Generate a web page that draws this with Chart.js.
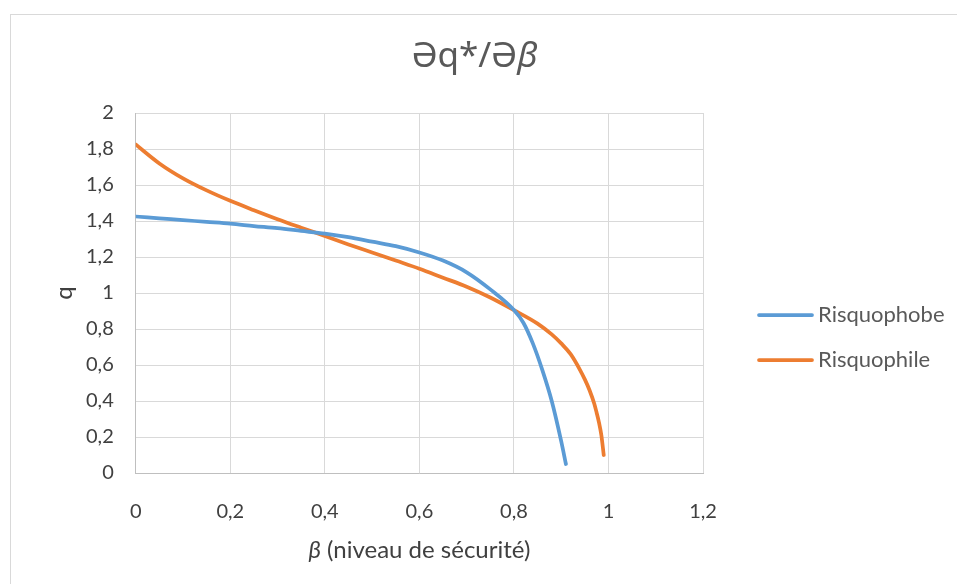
<!DOCTYPE html>
<html>
<head>
<meta charset="utf-8">
<script src="https://cdn.jsdelivr.net/npm/chart.js@4/dist/chart.umd.min.js"></script>
<style>
  body { margin: 0; background: #fff; }
  #wrap { position: relative; width: 957px; height: 584px; overflow: hidden; }
  #frame { position: absolute; left: 10px; top: 14px; width: 980px; height: 620px; border: 1px solid #d9d9d9; }
  canvas { position: absolute; left: 0; top: 0; }
</style>
</head>
<body>
<div id="wrap">
  <div id="frame"></div>
  <canvas id="chart" width="957" height="584"></canvas>
</div>
<script>
// q as a function of beta for each attitude toward risk
const betaPhobe = [0, 0.05, 0.1, 0.15, 0.2, 0.25, 0.3, 0.35, 0.4, 0.45, 0.5, 0.55, 0.6, 0.65, 0.7, 0.75, 0.8, 0.82, 0.84, 0.86, 0.88, 0.9, 0.91];
const qPhobe = [1.425, 1.415, 1.405, 1.395, 1.385, 1.372, 1.36, 1.345, 1.33, 1.31, 1.285, 1.26, 1.225, 1.18, 1.115, 1.02, 0.905, 0.835, 0.72, 0.573, 0.4, 0.177, 0.05];

const betaPhile = [0, 0.05, 0.1, 0.15, 0.2, 0.25, 0.3, 0.35, 0.4, 0.45, 0.5, 0.55, 0.6, 0.65, 0.7, 0.75, 0.8, 0.85, 0.88, 0.9, 0.92, 0.94, 0.95, 0.96, 0.97, 0.975, 0.98, 0.985, 0.99];
const qPhile = [1.825, 1.72, 1.637, 1.57, 1.512, 1.46, 1.41, 1.363, 1.317, 1.27, 1.225, 1.18, 1.135, 1.085, 1.035, 0.975, 0.905, 0.83, 0.77, 0.72, 0.66, 0.572, 0.52, 0.46, 0.385, 0.335, 0.28, 0.21, 0.1];

const seriesNames = ['Risquophobe', 'Risquophile'];
const seriesColors = ['#5B9BD5', '#ED7D31'];

const titleParts = [['Əq*/Ə', ''], ['β', 'italic ']];
const xTitleParts = [['β', 'italic '], [' (niveau de sécurité)', '']];
const yTitle = 'q';

const toPoints = (xs, ys) => xs.map((x, i) => ({ x: x, y: ys[i] }));
const fmt = v => Number(v.toFixed(1)).toLocaleString('fr-FR');

const fontFamily = 'Lato, "Noto Sans", sans-serif';
const textColor = '#595959';
const axisTextColor = '#404040';

// draws a line of text made of pieces with their own font style, centred on cx
function drawParts(ctx, parts, cx, cy, size, family, color) {
    let total = 0;
    parts.forEach(p => {
        ctx.font = p[1] + size + 'px ' + family;
        total += ctx.measureText(p[0]).width;
    });
    let x = cx - total / 2;
    ctx.fillStyle = color;
    ctx.textBaseline = 'middle';
    ctx.textAlign = 'left';
    parts.forEach(p => {
        ctx.font = p[1] + size + 'px ' + family;
        ctx.fillText(p[0], x, cy);
        x += ctx.measureText(p[0]).width;
    });
}

// chart title, axis titles and the legend on the right
const decorations = {
    id: 'decorations',
    afterDraw(chart) {
        const ctx = chart.ctx;
        const area = chart.chartArea;
        const midY = (area.top + area.bottom) / 2;
        ctx.save();
        drawParts(ctx, titleParts, chart.width / 2 - 4, 57, 35, '"Noto Sans"', textColor);
        drawParts(ctx, xTitleParts, (area.left + area.right) / 2, area.bottom + 77, 24, fontFamily, axisTextColor);

        ctx.save();
        ctx.translate(area.left - 71, midY);
        ctx.rotate(-Math.PI / 2);
        drawParts(ctx, [[yTitle, '']], 0, 0, 24, fontFamily, axisTextColor);
        ctx.restore();

        chart.data.datasets.forEach((ds, i) => {
            const y = midY + 22 + i * 45;
            const x0 = area.right + 56;
            ctx.strokeStyle = ds.borderColor;
            ctx.lineWidth = ds.borderWidth;
            ctx.lineCap = 'round';
            ctx.beginPath();
            ctx.moveTo(x0, y);
            ctx.lineTo(x0 + 53, y);
            ctx.stroke();
            ctx.font = '22px ' + fontFamily;
            ctx.fillStyle = textColor;
            ctx.textBaseline = 'middle';
            ctx.textAlign = 'left';
            ctx.fillText(ds.label, x0 + 59, y);
        });
        ctx.restore();
    }
};

const ctx = document.getElementById('chart').getContext('2d');
new Chart(ctx, {
    type: 'line',
    data: {
        datasets: [
            {
                label: seriesNames[0],
                data: toPoints(betaPhobe, qPhobe),
                borderColor: seriesColors[0],
                backgroundColor: seriesColors[0],
                borderWidth: 3.75,
                borderCapStyle: 'round',
                pointRadius: 0,
                cubicInterpolationMode: 'monotone',
                fill: false
            },
            {
                label: seriesNames[1],
                data: toPoints(betaPhile, qPhile),
                borderColor: seriesColors[1],
                backgroundColor: seriesColors[1],
                borderWidth: 3.75,
                borderCapStyle: 'round',
                pointRadius: 0,
                cubicInterpolationMode: 'monotone',
                fill: false
            }
        ]
    },
    plugins: [decorations],
    options: {
        responsive: false,
        animation: false,
        locale: 'fr-FR',
        layout: { padding: { top: 113, left: 64, right: 254, bottom: 33 } },
        plugins: {
            legend: { display: false },
            title: { display: false },
            tooltip: { enabled: false }
        },
        scales: {
            x: {
                type: 'linear',
                min: 0,
                max: 1.2,
                ticks: { stepSize: 0.2, color: axisTextColor, font: { family: fontFamily, size: 20 }, padding: 27, callback: fmt },
                grid: { color: '#d9d9d9', drawTicks: false },
                border: { color: '#bfbfbf' }
            },
            y: {
                min: 0,
                max: 2,
                ticks: { stepSize: 0.2, color: axisTextColor, font: { family: fontFamily, size: 20 }, padding: 22, callback: fmt },
                grid: { color: '#d9d9d9', drawTicks: false },
                border: { color: '#bfbfbf' }
            }
        }
    }
});
</script>
</body>
</html>
